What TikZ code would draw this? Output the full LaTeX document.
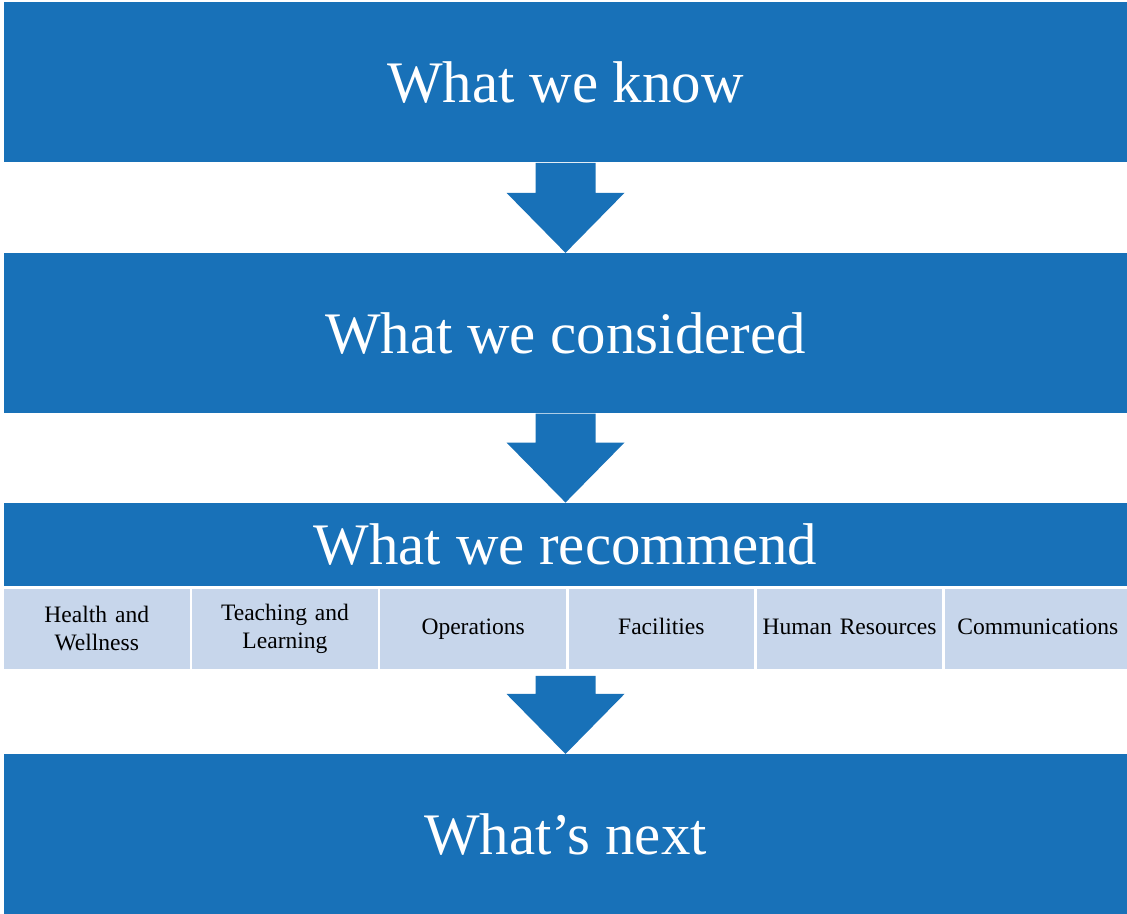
\documentclass[tikz,border=0pt]{standalone}
\usepackage{fontspec}
\setmainfont{Liberation Serif}
\usepackage{tikz}
\usetikzlibrary{positioning}
\definecolor{boxblue}{RGB}{24,113,184}
\definecolor{subblue}{RGB}{199,214,235}
% block arrow from the shaft top (#1) down to the tip (#2)
\newcommand{\blockarrow}[2]{%
    \fill[boxblue] ([xshift=-0.6cm]#1) -- ([xshift=-0.6cm,yshift=1.2cm]#2)
        -- ([xshift=-1.18cm,yshift=1.2cm]#2) -- (#2)
        -- ([xshift=1.18cm,yshift=1.2cm]#2) -- ([xshift=0.6cm,yshift=1.2cm]#2)
        -- ([xshift=0.6cm]#1) -- cycle;}

\begin{document}
\begin{tikzpicture}[
        bigbox/.style={fill=boxblue, text=white, inner sep=0pt,
            minimum width=22.46cm, minimum height=3.2cm,
            font=\fontsize{33.5}{38}\selectfont},
        subbox/.style={fill=subblue, text=black, inner sep=0pt, align=center,
            minimum width=3.71cm, minimum height=1.6cm, text width=3.6cm,
            font=\fontsize{13.4}{16}\selectfont}]
        \useasboundingbox (0,0) rectangle (22.54,-18.28);
        % the three big steps
        \node[bigbox] (know) at (11.31,-1.65) {What we know};
        \node[bigbox, below=1.8cm of know] (considered) {What we considered};
        \node[bigbox, below=1.78cm of considered, minimum height=1.66cm] (recommend) {What we recommend};
        % the row of areas under the recommendations
        \node[subbox, anchor=north west] (health) at ([yshift=-0.04cm]recommend.south west) {Health and\\Wellness};
        \node[subbox, right=0.04cm of health] (teaching) {Teaching and\\Learning};
        \node[subbox, right=0.04cm of teaching] (ops) {Operations\strut};
        \node[subbox, right=0.04cm of ops] (facilities) {Facilities\strut};
        \node[subbox, right=0.04cm of facilities] (hr) {Human Resources\strut};
        \node[subbox, right=0.04cm of hr] (comm) {Communications\strut};
        % the last step
        \coordinate (rowbottom) at (recommend.south |- ops.south);
        \coordinate (gap) at ([yshift=-0.14cm]rowbottom);
        \node[bigbox, anchor=north] (next) at ([yshift=-1.7cm]rowbottom) {What’s next};
        % the arrows between the steps
        \blockarrow{know.south}{considered.north}
        \blockarrow{considered.south}{recommend.north}
        \blockarrow{gap}{next.north}
    \end{tikzpicture}
\end{document}
